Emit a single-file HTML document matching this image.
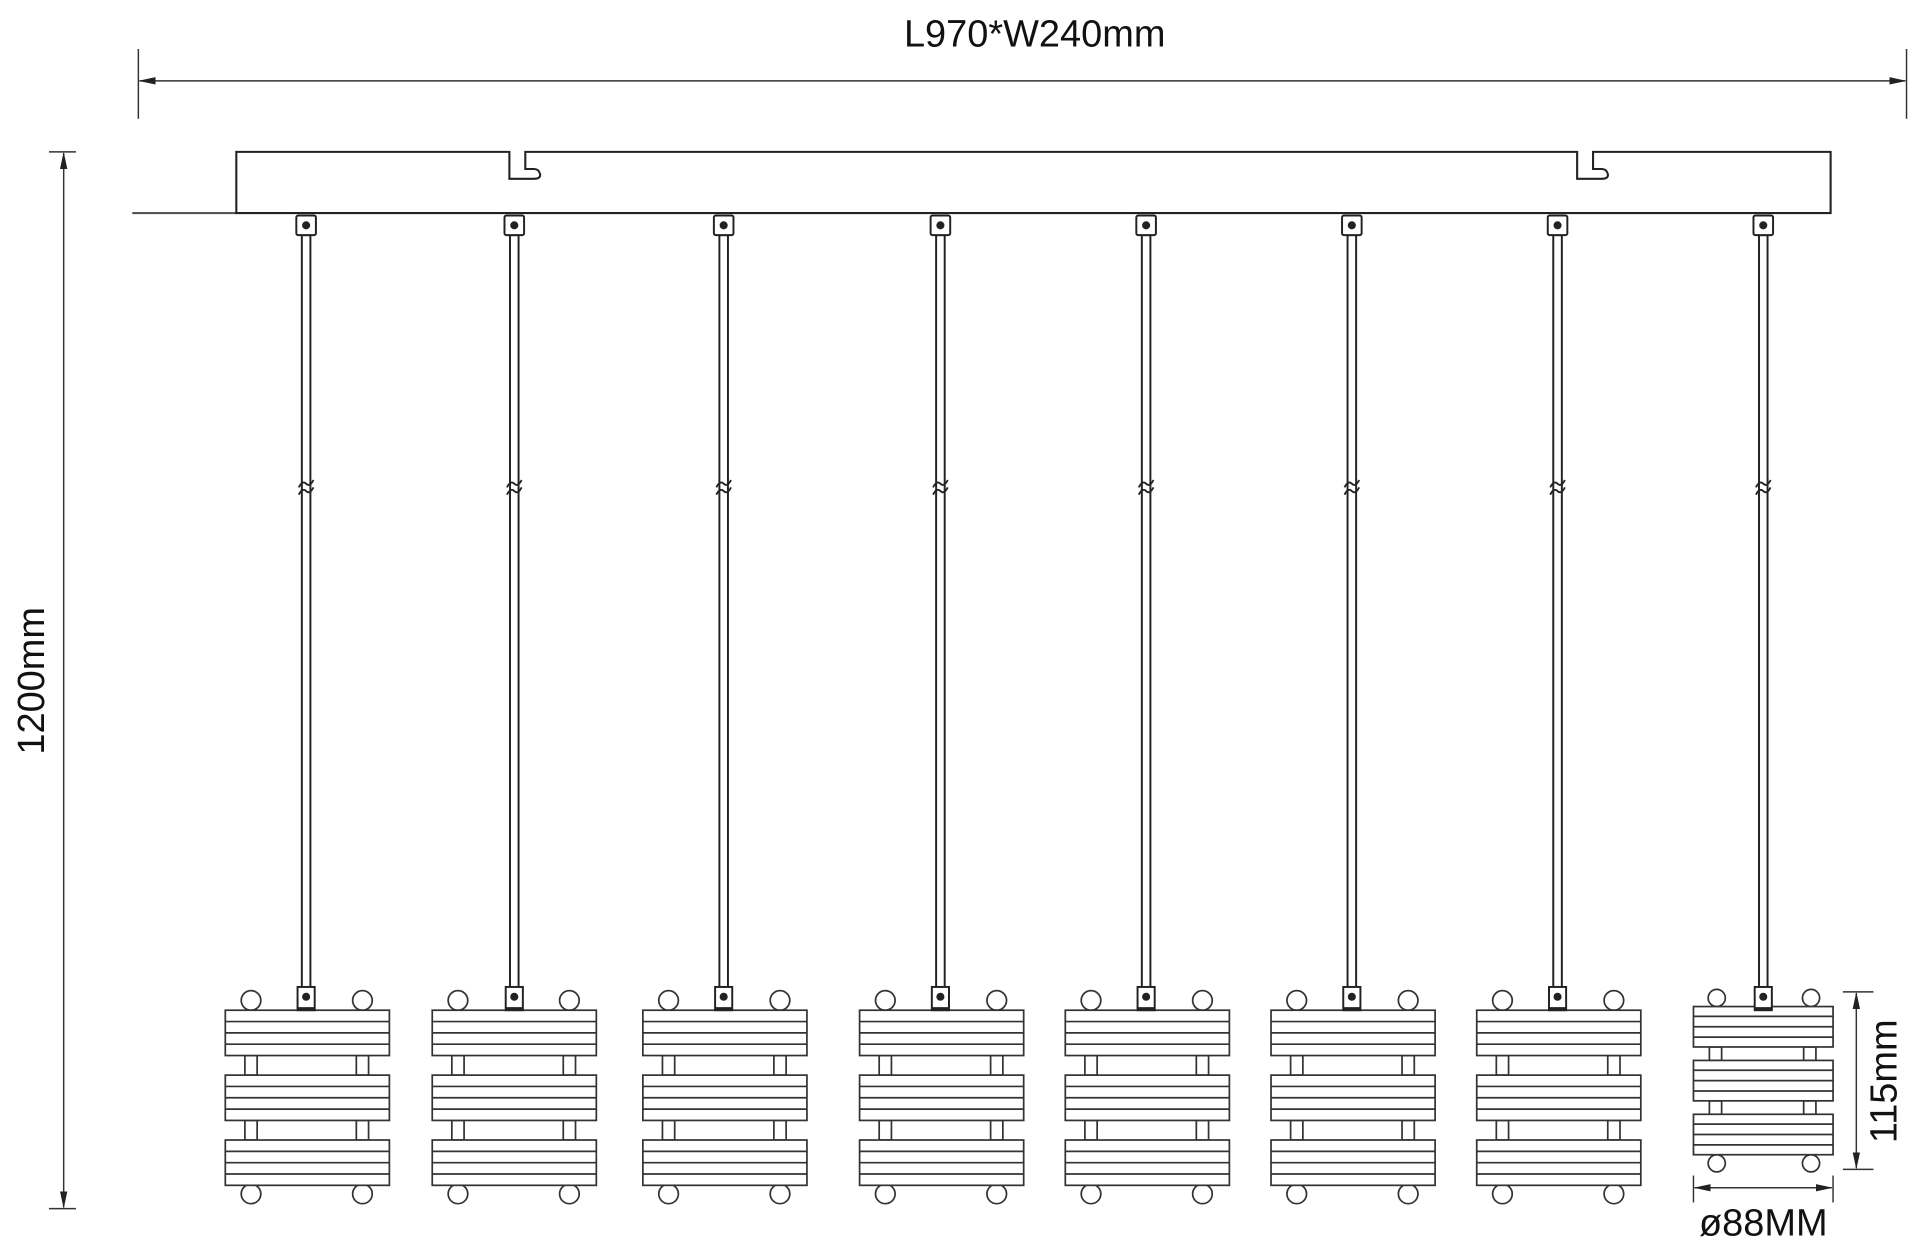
<!DOCTYPE html>
<html><head><meta charset="utf-8"><style>
html,body{margin:0;padding:0;background:#fff;}
svg{display:block;}
text{font-family:"Liberation Sans",Arial,sans-serif;fill:#111;}
</style></head><body>
<svg width="1920" height="1256" viewBox="0 0 1568 1025.7" xmlns="http://www.w3.org/2000/svg">
<defs>
<marker id="ar" markerWidth="14" markerHeight="8" refX="13" refY="4" orient="auto" markerUnits="userSpaceOnUse"><path d="M0,1 L14,4 L0,7 Z" fill="#222"/></marker>
<marker id="al" markerWidth="14" markerHeight="8" refX="1" refY="4" orient="auto" markerUnits="userSpaceOnUse"><path d="M14,1 L0,4 L14,7 Z" fill="#222"/></marker>
<g id="bar" fill="#fff" stroke="#333" stroke-width="1.4">
<rect x="0" y="0" width="134" height="37"/>
<line x1="0" y1="9.25" x2="134" y2="9.25"/><line x1="0" y1="18.5" x2="134" y2="18.5"/><line x1="0" y1="27.75" x2="134" y2="27.75"/>
</g>
<g id="pend" fill="#fff" stroke="#333" stroke-width="1.4">
<circle cx="21" cy="817" r="8"/><circle cx="112" cy="817" r="8"/>
<circle cx="21" cy="975" r="8"/><circle cx="112" cy="975" r="8"/>
<rect x="16" y="862" width="10" height="16"/><rect x="107" y="862" width="10" height="16"/>
<rect x="16" y="915" width="10" height="16"/><rect x="107" y="915" width="10" height="16"/>
<use href="#bar" y="825"/><use href="#bar" y="878"/><use href="#bar" y="931"/>
</g>
<g id="rod" fill="#fff" stroke="#222" stroke-width="1.6">
<rect x="-3.5" y="192" width="7" height="614"/>
<rect x="-8" y="176" width="16" height="16" rx="1.5"/>
<circle cx="0" cy="184" r="2.5" fill="#222"/>
<path d="M-6,398 q3,-6 6,-3 t6,-3 M-6,404 q3,-6 6,-3 t6,-3" stroke-width="1.5" fill="none"/>
<rect x="-7" y="806" width="14" height="19"/>
<circle cx="0" cy="814" r="2.5" fill="#222"/>
<line x1="-7" y1="824" x2="7" y2="824" stroke-width="3"/>
</g>
</defs>

<g stroke="#333" stroke-width="1.2" fill="none">
<line x1="113" y1="40" x2="113" y2="97"/><line x1="1557" y1="40" x2="1557" y2="97"/>
<line x1="114" y1="66" x2="1556" y2="66" marker-start="url(#al)" marker-end="url(#ar)"/>
<line x1="40" y1="124" x2="62" y2="124"/><line x1="40" y1="987" x2="62" y2="987"/>
<line x1="52" y1="125" x2="52" y2="986" marker-start="url(#al)" marker-end="url(#ar)"/>
<line x1="1505" y1="810" x2="1530" y2="810"/><line x1="1505" y1="955" x2="1530" y2="955"/>
<line x1="1516" y1="811" x2="1516" y2="954" marker-start="url(#al)" marker-end="url(#ar)"/>
<line x1="1383" y1="960" x2="1383" y2="982"/><line x1="1497" y1="960" x2="1497" y2="982"/>
<line x1="1384" y1="970" x2="1496" y2="970" marker-start="url(#al)" marker-end="url(#ar)"/>
</g>
<text x="845" y="38" font-size="31" text-anchor="middle">L970*W240mm</text>
<text transform="translate(36,556) rotate(-90)" font-size="31" text-anchor="middle">1200mm</text>
<text transform="translate(1549,883) rotate(-90)" font-size="31" text-anchor="middle">115mm</text>
<text x="1440" y="1009" font-size="31" text-anchor="middle">ø88MM</text>

<g fill="none" stroke="#222" stroke-width="1.7">
<line x1="108" y1="174" x2="193" y2="174" stroke="#555"/>
<path d="M193,124 H416 V146 H436 Q442,146 441,142 Q440,138 436,138 H429 V124 H1288 V146 H1308 Q1314,146 1313,142 Q1312,138 1308,138 H1301 V124 H1495 V174 H193 Z"/>
</g>

<use href="#pend" x="184"/><use href="#pend" x="353"/><use href="#pend" x="525"/><use href="#pend" x="702"/>
<use href="#pend" x="870"/><use href="#pend" x="1038"/><use href="#pend" x="1206"/>

<g fill="#fff" stroke="#333" stroke-width="1.4">
<circle cx="1402" cy="815" r="7"/><circle cx="1479" cy="815" r="7"/>
<circle cx="1402" cy="950" r="7"/><circle cx="1479" cy="950" r="7"/>
<rect x="1396" y="855" width="10" height="11"/><rect x="1473" y="855" width="10" height="11"/>
<rect x="1396" y="899" width="10" height="11"/><rect x="1473" y="899" width="10" height="11"/>
<rect x="1383" y="822" width="114" height="33"/><line x1="1383" y1="830" x2="1497" y2="830"/><line x1="1383" y1="838.5" x2="1497" y2="838.5"/><line x1="1383" y1="847" x2="1497" y2="847"/>
<rect x="1383" y="866" width="114" height="33"/><line x1="1383" y1="874" x2="1497" y2="874"/><line x1="1383" y1="882.5" x2="1497" y2="882.5"/><line x1="1383" y1="891" x2="1497" y2="891"/>
<rect x="1383" y="910" width="114" height="33"/><line x1="1383" y1="918" x2="1497" y2="918"/><line x1="1383" y1="926.5" x2="1497" y2="926.5"/><line x1="1383" y1="935" x2="1497" y2="935"/>
</g>

<use href="#rod" x="250"/><use href="#rod" x="420"/><use href="#rod" x="591"/><use href="#rod" x="768"/>
<use href="#rod" x="936"/><use href="#rod" x="1104"/><use href="#rod" x="1272"/><use href="#rod" x="1440"/>
</svg>
</body></html>
